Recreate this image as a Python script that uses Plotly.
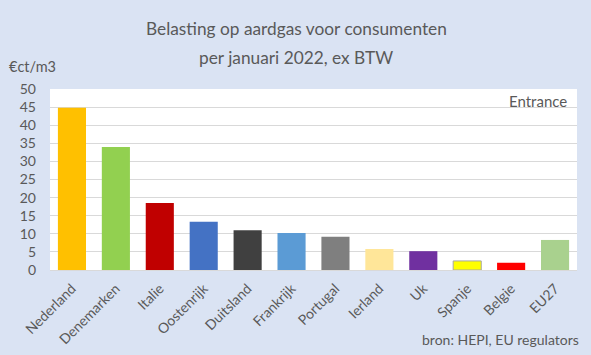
import plotly.graph_objects as go

countries = ["Nederland", "Denemarken", "Italie", "Oostenrijk", "Duitsland", "Frankrijk",
             "Portugal", "Ierland", "Uk", "Spanje", "Belgie", "EU27"]
values = [44.8, 34.0, 18.5, 13.3, 11.0, 10.2, 9.2, 5.8, 5.2, 2.5, 2.0, 8.3]
colors = ["#FFC000", "#92D050", "#C00000", "#4472C4", "#404040", "#5B9BD5",
          "#7F7F7F", "#FFE699", "#7030A0", "#FFFF00", "#FF0000", "#A9D18E"]
line_colors = ["rgba(0,0,0,0)"] * 9 + ["#A6A6A6"] + ["rgba(0,0,0,0)"] * 2
y_ticks = [0, 5, 10, 15, 20, 25, 30, 35, 40, 45, 50]
title_lines = ["Belasting op aardgas voor consumenten", "per januari 2022, ex BTW"]

FONT = "Lato, Carlito, Calibri, sans-serif"
GREY = "#595959"
BG = "#DAE3F3"

fig = go.Figure(go.Bar(
    x=countries, y=values,
    marker=dict(color=colors, line=dict(color=line_colors, width=1)),
))

fig.update_layout(
    width=591, height=355,
    paper_bgcolor=BG, plot_bgcolor="white",
    margin=dict(l=50, r=14, t=89, b=85),
    bargap=0.36,
    showlegend=False,
    font=dict(family=FONT, color=GREY, size=14),
    xaxis=dict(tickangle=-45, tickfont=dict(size=14, color=GREY), showgrid=False,
               ticks="", showline=True, linecolor="#D9D9D9", automargin=False,
               ticklabelstandoff=4),
    yaxis=dict(range=[0, 50], tickvals=y_ticks, tickfont=dict(size=14, color=GREY),
               showgrid=True, gridcolor="#D9D9D9", gridwidth=1, zeroline=False,
               ticks="", ticklabelstandoff=13, automargin=False),
    annotations=[
        dict(text=title_lines[0], x=0.4668, xref="paper", xanchor="center", y=1.0, yref="paper",
             yanchor="middle", yshift=61, showarrow=False,
             font=dict(size=17.3, color=GREY, family=FONT)),
        dict(text=title_lines[1], x=0.4668, xref="paper", xanchor="center", y=1.0, yref="paper",
             yanchor="middle", yshift=32, showarrow=False,
             font=dict(size=17.3, color=GREY, family=FONT)),
        dict(text="€ct/m3", x=0, xref="paper", xanchor="left", xshift=-43, y=1.0, yref="paper",
             yanchor="bottom", yshift=12, showarrow=False, font=dict(size=14.5, color=GREY)),
        dict(text="Entrance", x=1, xref="paper", xanchor="right", xshift=-8, y=1.0, yref="paper",
             yanchor="top", yshift=-1, showarrow=False, font=dict(size=15, color=GREY)),
        dict(text="bron: HEPI, EU regulators", x=1, xref="paper", xanchor="right", xshift=4,
             y=0, yref="paper", yanchor="bottom", yshift=-80, showarrow=False,
             font=dict(size=14, color=GREY)),
    ],
)

fig.write_html(
    "out.html",
    config={"displayModeBar": False},
    post_script="document.body.style.margin='0';document.body.style.background='%s';" % BG,
)
